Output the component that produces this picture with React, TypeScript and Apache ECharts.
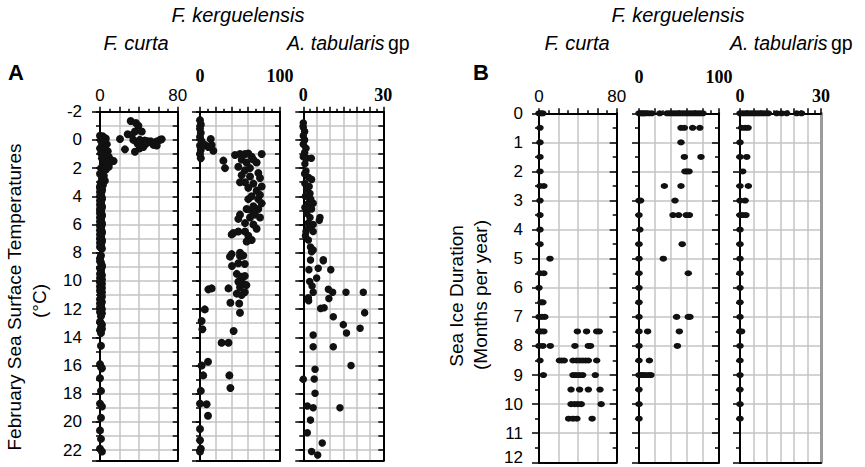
import React, { useEffect, useRef } from "react";
import * as echarts from "echarts";

// ---------- DATA (x = abundance %, y = SST °C or months of sea ice) ----------
const fCurtaSST: number[][] = [
  [31.6, -1.34], [37, -1.2], [39.5, -1.0], [36, -0.6], [43, -0.6], [28.5, -0.4], [32.6, -0.35],
  [20.6, -0.06], [34.3, 0], [37.8, 0.13], [41, 0.0], [44, 0.1], [46, 0.05], [48, 0.08], [50, 0.15],
  [52, 0.1], [54, 0.2], [56.6, 0.17], [59, 0.1], [61.8, 0.0], [63.5, -0.05], [58.4, 0.4], [55, 0.35],
  [25.7, 0.67], [36, 0.84], [41, 0.6], [44.6, 0.5], [39, 0.3], [47, 0.3],
  [0, -0.3], [3, -0.25], [6, -0.1], [1, 0.05], [4, 0.2], [7, 0.3], [2, 0.4], [5, 0.55], [0, 0.6],
  [3, 0.75], [8, 0.8], [1, 0.95], [6, 1.0], [4, 1.15], [9, 1.2], [2, 1.3], [12, 1.45], [14, 1.5],
  [10, 1.6], [7, 1.55], [3, 1.7], [5, 1.85], [9, 1.9], [1, 2.0], [6, 2.1], [3, 2.25], [0, 2.4],
  [4, 2.55], [2, 2.7], [5, 2.9], [1, 3.0], [3, 3.2], [0, 3.4], [2, 3.6], [1, 3.8], [0, 4.0],
  [2, 4.2], [1, 4.4], [0, 4.6], [2, 4.8], [1, 5.0], [0, 5.2], [2, 5.4], [1, 5.6], [0, 5.8],
  [2, 6.0], [1, 6.2], [0, 6.4], [2, 6.6], [1, 6.8], [0, 7.0], [2, 7.2], [1, 7.4], [0, 7.6],
  [1, 3.1], [0, 3.3], [2, 3.5], [0, 3.7], [1, 3.9], [2, 4.1], [0, 4.3], [1, 4.5], [2, 4.7],
  [0, 4.9], [1, 5.1], [2, 5.3], [0, 5.5], [1, 5.7], [2, 5.9], [0, 6.1], [1, 6.3], [2, 6.5],
  [0, 6.7], [1, 6.9], [2, 7.1], [0, 7.3], [1, 7.5], [2, 7.7],
  [1, 8.2], [0, 8.4], [1, 8.7], [2, 8.9], [0, 9.1], [1, 9.4], [2, 9.6], [0, 9.8], [1, 10.0],
  [2, 10.2], [0, 10.4], [1, 10.6], [2, 10.8], [1, 11.0], [0, 11.3], [2, 11.5], [1, 11.7],
  [0, 11.9], [1, 12.1], [2, 12.3], [1, 12.5], [0, 12.9], [2, 13.1], [1, 13.3], [0, 13.5],
  [0, 8.6], [2, 9.0], [1, 9.25], [0, 9.5], [1, 9.7], [2, 9.9], [0, 10.1], [1, 10.3], [2, 10.5],
  [0, 10.7], [1, 10.9], [2, 11.1], [0, 11.6], [1, 11.8], [2, 12.0], [0, 12.2], [1, 13.0], [2, 13.4],
  [1, 13.7], [1, 14.6], [0, 15.9], [1, 16.1], [2, 16.2], [0, 16.9], [1, 17.8], [0, 18.7],
  [2, 18.9], [1, 19.7], [0, 20.6], [1, 21.2], [0, 21.9], [2, 22.1],
];

const fKergSST: number[][] = [
  [0, -1.4], [1, -1.1], [0, -0.8], [1, -0.5], [0, -0.2], [2, 0.1], [0, 0.4], [1, 0.7], [0, 1.0],
  [1, 1.3], [13.4, -0.06], [14.6, 0.36], [16.7, 0.77], [10.4, 0.5], [6.25, 0.36],
  [43.75, 1.07], [50, 1.0], [56.25, 1.0], [60.4, 0.97], [64.6, 1.2], [77.1, 1.0],
  [29.2, 1.47], [52.1, 1.4], [58.3, 1.6], [66.7, 1.4], [70.8, 1.6],
  [31.25, 2.0], [47.9, 1.9], [56.25, 2.15], [62.5, 2.0],
  [52.1, 2.5], [62.5, 2.6], [72.9, 2.35], [75, 2.7],
  [50, 3.0], [56.25, 3.0], [66.7, 3.1],
  [60.4, 3.4], [70.8, 3.6], [77.1, 3.3],
  [60.4, 4.2], [64.6, 4.0], [72.9, 4.2], [75, 3.9],
  [58.3, 4.9], [64.6, 5.0], [66.7, 4.7], [72.9, 4.9], [77.1, 4.5],
  [47.9, 5.6], [50, 5.3], [56.25, 5.9], [62.5, 5.5], [68.75, 5.3], [75, 5.5],
  [39.6, 6.7], [41.7, 6.6], [47.9, 6.5], [56.25, 6.5], [60.4, 6.8], [70.8, 6.3], [66.7, 6.0],
  [58.3, 7.2], [64.6, 7.1],
  [39.6, 8.1], [50, 8.0], [52.1, 8.2],
  [37.5, 8.28], [50, 8.24], [54, 8.2], [40, 8.94], [48, 8.75], [56, 8.8],
  [46, 9.5], [52, 9.7], [56, 9.65], [48, 10.06], [54, 10.2], [50, 10.45], [58, 10.3],
  [56, 10.8], [52, 11.0], [46, 10.9], [35.6, 10.53], [10.4, 10.6], [14.6, 10.53],
  [38, 11.55], [49, 11.6], [50, 12.26], [6, 12.02], [2, 12.84], [3, 13.43], [42, 13.55],
  [27, 14.38], [35.6, 14.38], [10, 15.73], [2, 16.0], [4, 16.7], [36.7, 16.7], [38, 17.6],
  [1, 17.8], [0, 18.7], [8.3, 18.75], [10, 19.56], [0, 20.5], [0, 21.3], [1, 21.9], [0, 22.1],
];

const aTabSST: number[][] = [
  [0, -1.2], [0, -0.9], [0.5, -0.6], [0, -0.3], [0.5, 0], [0, 0.3], [1, 0.6], [0.5, 0.9], [0, 1.2],
  [1.3, 1.3], [3, 1.3], [0.6, 1.7], [1.9, 2.65], [3.1, 2.8], [0.6, 3.1], [1.3, 3.5], [2.5, 3.8],
  [3.7, 4.5], [1.9, 4.5], [3.1, 4.9], [1.3, 5.2], [2.5, 5.5], [6.25, 5.5], [6, 5.7], [1.9, 5.9],
  [3.7, 6.0], [1.0, 6.5], [3.7, 6.5], [1.9, 7.1], [2.7, 7.6], [3.7, 7.8], [7.5, 8.5],
  [1.0, 2.2], [0.5, 2.4], [2.2, 3.3], [0.8, 4.0], [2.8, 4.2], [0.6, 4.8], [2.0, 6.2], [0.8, 6.8],
  [3.1, 7.93], [7.5, 8.57], [2.7, 8.52], [5.6, 9.1], [10.3, 9.2], [2.1, 9.2], [5, 9.8],
  [2.4, 10.05], [3.3, 10.36], [3.7, 10.8], [9.4, 10.6], [11, 10.8], [16, 10.8], [22.5, 10.8],
  [1.9, 11.2], [2, 11.4], [9.6, 11.25], [6.5, 11.95], [7.8, 11.9], [23, 12.25], [11.25, 12.54],
  [15, 13.1], [21.3, 13.36], [16.2, 13.7], [3.7, 13.84], [3.7, 14.67], [11.25, 14.67],
  [17.9, 16.0], [4.4, 16.27], [0, 16.98], [4.1, 16.95], [4.4, 17.97], [1.5, 18.87], [3.7, 19.0],
  [13.75, 19.0], [2.7, 19.87], [1.5, 20.77], [7.1, 21.5], [3.1, 22.1], [5.4, 22.35],
];

const fCurtaIce: number[][] = [
  [0, 0], [2, 0], [4, 0], [1, 0.5], [1, 1.0], [1, 1.5], [1, 2.0], [1, 2.5], [5, 2.5], [1, 3.0],
  [1, 3.5], [1, 4.0], [1, 4.5], [11.3, 5.0], [1, 5.5], [5, 5.5], [0, 6.0], [2, 6.5], [4, 6.5],
  [0, 7.0], [3, 7.0], [6, 7.0], [0, 7.5], [2, 7.5], [5, 7.5], [39.5, 7.5], [49, 7.5], [59.4, 7.5],
  [62, 7.5], [0, 8.0], [4, 8.0], [11.6, 8.0], [37, 8.0], [50.8, 8.0], [53, 8.0],
  [1, 8.5], [21, 8.5], [23.5, 8.5], [26, 8.5], [35, 8.5], [38.6, 8.5], [42, 8.5], [45, 8.5],
  [48, 8.5], [50.8, 8.5], [59.4, 8.5], [4.5, 9.0], [35, 9.0], [38, 9.0], [41.5, 9.0], [45, 9.0],
  [58, 9.0], [33, 9.5], [41.8, 9.5], [50.8, 9.5], [62.8, 9.5], [33, 10.0], [36.7, 10.0],
  [40, 10.0], [43.5, 10.0], [64, 10.0], [30.5, 10.5], [35, 10.5], [39, 10.5], [54.7, 10.5],
];

const fKergIce: number[][] = [
  [0, 0], [2, 0], [4, 0], [6, 0], [8, 0], [12, 0], [16, 0], [26, 0], [35, 0], [38, 0], [41, 0],
  [44, 0], [47, 0], [50, 0], [53, 0], [56, 0], [59, 0], [62, 0], [65, 0], [68, 0], [71, 0], [74, 0],
  [77, 0], [80, 0],
  [52.5, 0.5], [56.7, 0.5], [67, 0.5], [76, 0.5], [52.5, 1.0], [56.7, 1.5], [77.5, 1.5],
  [57.5, 2.0], [60, 2.0], [62.5, 2.0], [31.7, 2.5], [52.5, 2.5], [0, 3.0], [2, 3.0], [45, 3.0],
  [0, 3.5], [42.5, 3.5], [49.5, 3.5], [59, 3.5], [63, 3.5], [1, 4.0], [0, 4.5], [54, 4.5],
  [0, 5.0], [30.4, 5.0], [0, 5.5], [61.6, 5.5], [0, 6.0], [0, 6.5], [0, 7.0], [47, 7.0],
  [61.6, 7.0], [63.7, 7.0], [0, 7.5], [10.8, 7.5], [50.4, 7.5], [0, 8.0], [48, 8.0],
  [0, 8.5], [13, 8.5], [0, 9.0], [2.5, 9.0], [5, 9.0], [8, 9.0], [12, 9.0], [15, 9.0],
  [0, 9.5], [0, 10.0], [0, 10.5],
];

const aTabIce: number[][] = [
  [0, 0], [0.9, 0], [1.85, 0], [2.8, 0], [3.7, 0], [4.6, 0], [5.6, 0], [6.5, 0], [7.4, 0],
  [8.4, 0], [9.3, 0], [10.5, 0], [13.6, 0], [15.4, 0], [17.3, 0], [21, 0], [22.8, 0],
  [0.6, 0.5], [1.9, 0.5], [3.0, 0.5], [0, 1.0], [0, 1.5], [2.5, 1.5], [1, 2.0], [0, 2.5],
  [3.1, 2.5], [0, 3.0], [1.9, 3.0], [0, 3.5], [1, 3.5], [2.2, 3.5], [0, 4.0], [0, 4.5],
  [0, 5.0], [0, 5.5], [0, 6.0], [0, 6.5], [0, 7.0], [0, 7.5], [0.6, 7.5], [0, 8.0], [0, 8.5],
  [0, 9.0], [0, 9.5], [0, 10.0], [0, 10.5],
];

// ---------- LAYOUT ----------
const SANS = "'Liberation Sans', Arial, sans-serif";
const SERIF = "'Liberation Serif', 'Times New Roman', serif";
const GRID_GRAY = "#c4c4c4";

type Panel = {
  left: number; top: number; width: number; height: number;
  xMax: number; xInt: number; yMin: number; yMax: number; kind: "sst" | "ice";
  data: number[][]; showY: boolean; xFont: string; xBold: boolean; xMargin: number;
  rightGray?: boolean; symbol: number | number[];
};

const panels: Panel[] = [
  { left: 100, top: 111.7, width: 77.7, height: 349, xMax: 80, xInt: 20, yMin: -2, yMax: 22.75, kind: "sst", data: fCurtaSST, showY: true, xFont: SANS, xBold: false, xMargin: 8, symbol: 8 },
  { left: 200, top: 111.7, width: 80, height: 349, xMax: 100, xInt: 20, yMin: -2, yMax: 22.75, kind: "sst", data: fKergSST, showY: false, xFont: SERIF, xBold: true, xMargin: 27, symbol: 8 },
  { left: 303.3, top: 111.7, width: 80, height: 349, xMax: 30, xInt: 5, yMin: -2, yMax: 22.75, kind: "sst", data: aTabSST, showY: false, xFont: SERIF, xBold: true, xMargin: 8, symbol: 7.5 },
  { left: 539, top: 113.3, width: 77.7, height: 349, xMax: 80, xInt: 20, yMin: 0, yMax: 12, kind: "ice", data: fCurtaIce, showY: true, xFont: SANS, xBold: false, xMargin: 8, symbol: [7.5, 6] },
  { left: 639, top: 113.3, width: 80, height: 349, xMax: 100, xInt: 20, yMin: 0, yMax: 12, kind: "ice", data: fKergIce, showY: false, xFont: SERIF, xBold: true, xMargin: 27, symbol: [7.5, 6] },
  { left: 740, top: 113.3, width: 81, height: 349, xMax: 30, xInt: 5, yMin: 0, yMax: 12, kind: "ice", data: aTabIce, showY: false, xFont: SERIF, xBold: true, xMargin: 8, rightGray: true, symbol: [7.5, 6] },
];

function buildOption() {
  const grid: any[] = [];
  const xAxis: any[] = [];
  const yAxis: any[] = [];
  const series: any[] = [];
  const blackLine = { show: true, onZero: false, lineStyle: { color: "#000", width: 2 } };

  panels.forEach((p, gi) => {
    grid.push({ left: p.left, top: p.top, width: p.width, height: p.height, containLabel: false, outerBoundsMode: "none" });

    const xTop = xAxis.length;
    xAxis.push({
      gridIndex: gi, type: "value", position: "top", min: 0, max: p.xMax, interval: p.xInt,
      axisLine: blackLine,
      axisTick: { show: true, length: 5, lineStyle: { color: "#000", width: 1.5 } },
      minorTick: { show: true, splitNumber: 2, length: 3, lineStyle: { color: "#000", width: 1.5 } },
      splitLine: { show: true, lineStyle: { color: GRID_GRAY, width: 1.5 } },
      axisLabel: {
        show: true, margin: p.xMargin, color: "#000", fontSize: p.xBold ? 18 : 17,
        fontFamily: p.xFont, fontWeight: p.xBold ? "bold" : "normal",
        formatter: (v: number) => (v === 0 || v === p.xMax ? String(v) : ""),
      },
    });
    xAxis.push({
      gridIndex: gi, type: "value", position: "bottom", min: 0, max: p.xMax,
      axisLine: blackLine, axisTick: { show: false }, axisLabel: { show: false }, splitLine: { show: false },
    });

    const yMain = yAxis.length;
    if (p.kind === "sst") {
      yAxis.push({
        gridIndex: gi, type: "value", position: "left", inverse: true, min: p.yMin, max: p.yMax, interval: 1,
        axisLine: blackLine,
        axisTick: { show: true, length: 4, lineStyle: { color: "#000", width: 1.5 } },
        axisLabel: { show: false },
        splitLine: { show: true, lineStyle: { color: GRID_GRAY, width: 1.5 } },
      });
      yAxis.push({
        gridIndex: gi, type: "value", position: "left", inverse: true, min: p.yMin, max: p.yMax, interval: 2,
        axisLine: { show: false, onZero: false },
        axisTick: { show: true, length: 8, lineStyle: { color: "#000", width: 1.5 } },
        axisLabel: {
          show: p.showY, margin: 18, color: "#000", fontSize: 17, fontFamily: SANS,
          formatter: (v: number) => (Number.isInteger(v) ? String(v) : ""),
        },
        splitLine: { show: false },
      });
      yAxis.push({
        gridIndex: gi, type: "value", position: "right", inverse: true, min: p.yMin, max: p.yMax, interval: 1,
        axisLine: blackLine,
        axisTick: { show: true, inside: true, length: 5, lineStyle: { color: "#000", width: 1.5 } },
        axisLabel: { show: false }, splitLine: { show: false },
      });
    } else {
      yAxis.push({
        gridIndex: gi, type: "value", position: "left", inverse: true, min: p.yMin, max: p.yMax, interval: 1,
        axisLine: blackLine,
        axisTick: { show: true, length: 7, lineStyle: { color: "#000", width: 1.5 } },
        minorTick: { show: true, splitNumber: 2, length: 4, lineStyle: { color: "#000", width: 1.5 } },
        axisLabel: {
          show: p.showY, margin: 16, color: "#000", fontSize: 17, fontFamily: SANS,
          // the last label sits at the picture's bottom edge: lift it a little
          formatter: (v: number) => (v === p.yMax ? "{e|" + v + "}" : String(v)),
          rich: { e: { fontSize: 17, fontFamily: SANS, color: "#000", padding: [0, 0, 10, 0] } },
        },
        splitLine: { show: true, lineStyle: { color: GRID_GRAY, width: 1.5 } },
      });
      yAxis.push({
        gridIndex: gi, type: "value", position: "right", inverse: true, min: p.yMin, max: p.yMax, interval: 1,
        axisLine: p.rightGray ? { show: true, onZero: false, lineStyle: { color: "#9a9a9a", width: 3 } } : blackLine,
        axisTick: { show: !p.rightGray, inside: true, length: 7, lineStyle: { color: "#000", width: 1.5 } },
        minorTick: { show: !p.rightGray, splitNumber: 2, length: 4, lineStyle: { color: "#000", width: 1.5 } },
        axisLabel: { show: false }, splitLine: { show: false },
      });
    }

    series.push({
      type: "scatter", xAxisIndex: xTop, yAxisIndex: yMain, data: p.data,
      symbol: "circle", symbolSize: p.symbol, itemStyle: { color: "#111", opacity: 1 },
      silent: true,
    });
  });

  const title = (text: string, x: number, y: number) => ({
    type: "text", x, y,
    style: { text, fontSize: 20, fontStyle: "italic", fontFamily: SANS, fill: "#000", align: "center", verticalAlign: "middle" },
  });
  const tab = (x: number) => ({
    type: "text", x, y: 43,
    style: {
      text: "{i|A. tabularis} {n|gp}", align: "left", verticalAlign: "middle", fill: "#000",
      rich: {
        i: { fontSize: 19.5, fontStyle: "italic", fontFamily: SANS, fill: "#000" },
        n: { fontSize: 19.5, fontFamily: SANS, fill: "#000" },
      },
    },
  });
  const rot = (text: string, x: number, y: number) => ({
    type: "text", x, y, rotation: Math.PI / 2,
    style: { text, fontSize: 19, fontFamily: SANS, fill: "#000", align: "center", verticalAlign: "middle" },
  });
  const letter = (text: string, x: number, y: number) => ({
    type: "text", x, y,
    style: { text, fontSize: 22, fontWeight: "bold", fontFamily: SANS, fill: "#000", align: "center", verticalAlign: "middle" },
  });

  const graphic = [
    title("F. kerguelensis", 238, 15),
    title("F. curta", 136, 43),
    tab(287),
    title("F. kerguelensis", 678, 15),
    title("F. curta", 577, 43),
    tab(730),
    letter("A", 16, 72),
    letter("B", 481, 72),
    rot("February Sea Surface Temperatures", 14, 297),
    rot("(°C)", 39, 301),
    rot("Sea Ice Duration", 456, 296),
    rot("(Months per year)", 480, 295),
  ];

  return { animation: false, backgroundColor: "#fff", grid, xAxis, yAxis, series, graphic };
}

export default function App() {
  const ref = useRef<HTMLDivElement>(null);
  useEffect(() => {
    if (!ref.current) return;
    const chart = echarts.init(ref.current, undefined, { renderer: "svg" });
    chart.setOption(buildOption() as any);
    return () => chart.dispose();
  }, []);
  return (
    <div
      ref={ref}
      style={{ position: "fixed", left: 0, top: 0, width: 865, height: 467, background: "#fff" }}
    />
  );
}
